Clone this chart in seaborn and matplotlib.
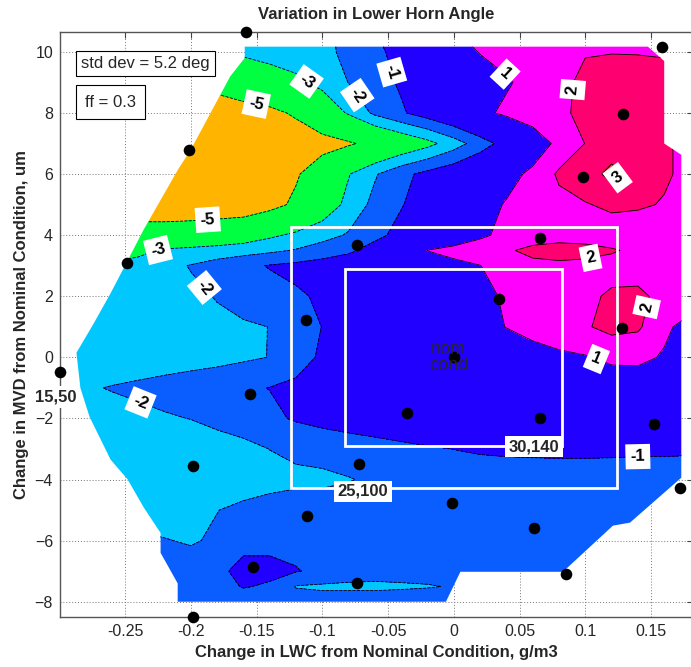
import numpy as np
import matplotlib
matplotlib.use("Agg")
import matplotlib.pyplot as plt
import seaborn as sns
from matplotlib.path import Path
from matplotlib.patches import Rectangle

# ---------------- data ----------------
lwc_grid = [-0.30, -0.28, -0.26, -0.24, -0.22, -0.20, -0.18, -0.16, -0.14, -0.12,
            -0.10, -0.08, -0.06, -0.04, -0.02, 0.00, 0.02, 0.04, 0.06, 0.08,
            0.10, 0.12, 0.14, 0.16, 0.18]
mvd_grid = [-8, -7.5, -7, -6, -5, -4, -3, -2, -1, 0, 1, 2, 3, 3.5, 4, 5, 6, 7, 8, 9, 10, 10.17]

# change in lower horn angle (deg), one row per MVD value (bottom to top)
angle_m8 = [-1.5]*5 + [-1.55, -1.5, -1.4, -1.45] + [-1.6]*5 + [-1.55] + [-1.5]*10
angle_m7h = [-1.5]*6 + [-1.3, -0.95, -1.1, -2.05, -2.15, -2.15, -2.15, -2.1, -2.05, -1.95, -1.6] + [-1.5]*8
angle_m7 = [-1.5]*6 + [-1.2, -0.75, -0.8, -0.95, -1.2, -1.6, -1.7, -1.7, -1.7, -1.6] + [-1.5]*9
angle_m6 = [-1.8, -1.8, -1.8, -1.8, -1.95, -2.1, -1.85, -1.25, -1.2, -1.25, -1.3, -1.45] + [-1.5]*13
angle_m5 = [-2.5]*5 + [-2.3, -2.02, -1.8, -1.65, -1.55] + [-1.5]*15
angle_m4 = [-2.6]*6 + [-2.55, -2.45, -2.3, -2.2, -2.2, -2.05, -1.85, -1.65, -1.55, -1.5] + [-1.45]*9
angle_m3 = [-2.6]*6 + [-2.5, -2.3, -1.99, -1.8, -1.65, -1.5, -1.35, -1.2, -1.08, -0.99, -0.9,
                      -0.85, -0.82, -0.8, -0.8, -0.82, -0.85, -0.85, -0.88]
angle_m2 = [-2.6, -2.5, -2.35, -2.25, -2.1, -1.98, -1.7, -1.45, -1.2, -0.9, -0.7, -0.55, -0.45,
            -0.38, -0.32, -0.28, -0.25, -0.22, -0.2, -0.2, -0.2, -0.22, -0.25, -0.25, -0.3]
angle_m1 = [-2.3, -2.1, -1.95, -1.8, -1.65, -1.5, -1.35, -1.15, -0.98, -0.8, -0.65, -0.5, -0.35,
            -0.2, -0.1, 0.0, 0.1, 0.2, 0.3, 0.35, 0.4, 0.4, 0.35, 0.3, 0.2]
angle_0 = [-2.6, -2.6, -2.6, -2.6, -2.5, -2.4, -2.3, -2.15, -1.98, -1.4, -0.85, -0.6, -0.4,
           -0.2, 0.0, 0.15, 0.3, 0.5, 0.65, 0.8, 0.93, 1.2, 1.25, 0.9, 0.5]
angle_1 = [-2.6, -2.6, -2.6, -2.5, -2.4, -2.3, -2.2, -2.1, -1.99, -1.5, -0.98, -0.71, -0.43,
           -0.14, 0.14, 0.43, 0.71, 1.02, 1.3, 1.6, 1.9, 2.3, 2.15, 1.2, 0.6]
angle_2 = [-2.7, -2.7, -2.7, -2.55, -2.4, -2.2, -1.95, -1.68, -1.41, -1.14, -0.86, -0.59, -0.31,
           -0.03, 0.24, 0.52, 0.79, 1.1, 1.4, 1.65, 1.85, 2.1, 2.15, 1.8, 1.6]
angle_3 = [-2.9, -2.9, -2.9, -2.6, -2.3, -1.95, -1.6, -1.26, -0.94, -0.75, -0.55, -0.35, -0.1,
           0.15, 0.45, 0.75, 0.98, 1.5, 1.8, 1.85, 1.8, 1.75, 1.7, 1.6, 1.5]
angle_3h = [-3.3, -3.3, -3.3, -3.3, -2.85, -2.7, -2.55, -2.4, -2.2, -1.93, -1.56, -1.19, -0.6,
            0.2, 1.02, 1.3, 1.6, 1.9, 2.2, 2.3, 2.25, 2.07, 1.85, 1.75, 1.7]
angle_4 = [-4.3, -4.3, -4.3, -4.3, -4.3, -4.2, -4.0, -3.7, -3.2, -2.79, -2.36, -1.9, -1.26,
           -0.7, -0.2, 0.3, 0.8, 1.3, 1.6, 1.7, 1.65, 1.6, 1.55, 1.5, 1.45]
angle_5 = [-5.9]*8 + [-5.45, -4.75, -3.75, -2.69, -1.71, -1.06, -0.51, 0.04, 0.59, 1.08, 1.41,
                      1.74, 1.95, 2.15, 2.1, 1.95, 1.7]
angle_6 = [-6.0]*8 + [-5.6, -5.15, -4.17, -3.06, -2.1, -1.28, -0.71, -0.26, 0.19, 0.64, 1.22,
                      2.15, 2.5, 3.3, 2.6, 2.1, 1.8]
angle_7 = [-6.0]*9 + [-5.8, -5.5, -5.15, -4.64, -3.98, -3.33, -2.47, -1.5, -0.57, 0.38, 1.26,
                      2.02, 2.4, 2.5, 2.1, 1.8]
angle_8 = [-5.8]*7 + [-5.6, -5.35, -4.81, -3.86, -2.875, -1.8, -1.13, -0.5, 0.125, 0.75, 1.19,
                      1.52, 1.84, 2.2, 2.5, 2.55, 2.45, 2.35]
angle_9 = [-5.0]*5 + [-4.8, -4.5, -4.0, -3.6, -3.25, -2.69, -1.98, -1.41, -0.87, -0.43, 0.01,
                      0.45, 0.89, 1.33, 1.76, 2.2, 2.4, 2.45, 2.4, 2.3]
angle_10 = [-3.2]*6 + [-2.9, -2.8, -2.6, -2.4, -2.2, -1.82, -1.24, -0.65, -0.06, 0.53, 1.05,
                       1.35, 1.6, 1.8, 1.95, 1.97, 1.95, 1.9, 1.9]
angle_top = [-2.8]*7 + [-2.7, -2.6, -2.4, -2.2, -1.81, -1.19, -0.58, 0.03, 0.64, 1.15, 1.4,
                        1.6, 1.75, 1.8, 1.85, 1.85, 1.8, 1.8]

angle_rows = [angle_m8, angle_m7h, angle_m7, angle_m6, angle_m5, angle_m4, angle_m3, angle_m2,
              angle_m1, angle_0, angle_1, angle_2, angle_3, angle_3h, angle_4, angle_5, angle_6,
              angle_7, angle_8, angle_9, angle_10, angle_top]

# outline of the interpolated region
region_lwc = [-0.159, 0.1476, 0.160, 0.160, 0.173, 0.173, 0.134, 0.121, 0.083, 0.005, -0.006,
              -0.21, -0.21, -0.223, -0.223, -0.236, -0.248, -0.261, -0.277, -0.284, -0.287,
              -0.274, -0.261, -0.249, -0.236, -0.223, -0.21, -0.2, -0.185, -0.17, -0.159]
region_mvd = [10.17, 10.17, 9.7, 7.0, 6.63, -3.94, -5.41, -5.51, -7.02, -7.02, -8.0,
              -8.0, -7.4, -6.4, -5.75, -4.9, -4.0, -3.35, -1.95, -1.0, 0.15,
              1.1, 2.1, 3.09, 4.17, 5.15, 6.13, 6.8, 8.0, 9.2, 9.8]

# test points
dot_lwc = [-0.158, 0.158, -0.2017, 0.1286, 0.0986, -0.2487, -0.0734, 0.0658, 0.0345, -0.1126,
           0.128, 0.0, -0.2995, -0.1547, -0.0358, 0.0655, 0.152, -0.1987, -0.0722, 0.1723,
           -0.0015, -0.1115, 0.0612, -0.153, 0.0856, -0.074, -0.198]
dot_mvd = [10.66, 10.17, 6.8, 7.97, 5.89, 3.09, 3.69, 3.9, 1.92, 1.22,
           0.97, 0.0, -0.48, -1.21, -1.81, -1.97, -2.19, -3.57, -3.5, -4.29,
           -4.78, -5.21, -5.59, -6.87, -7.09, -7.4, -8.49]

fill_levels = [-10, -5, -3, -2, -1, 1, 2, 3, 10]
band_colors = ['#FFB400', '#00FF40', '#00C8FF', '#0A5EFF', '#2200FF', '#FF00FF', '#FF0070', '#FF3030']
line_levels = [-5, -3, -2, -1, 1, 2, 3]

label_lwc = [-0.111, -0.149, -0.071, -0.041, 0.043, 0.092, 0.123, -0.187, -0.225, -0.189,
             0.104, 0.146, 0.106, -0.24, 0.14]
label_mvd = [9.08, 8.53, 8.65, 9.41, 9.47, 8.76, 5.97, 4.44, 3.52, 2.31,
             3.25, 1.65, -0.3, -1.65, -3.29]

box_half_lwc = [0.124, 0.0826]
box_half_mvd = [4.27, 2.89]
cond_labels = ["15,50", "25,100", "30,140"]
cond_lwc = [-0.303, -0.069, 0.061]
cond_mvd = [-1.29, -4.39, -2.92]

xtick_vals = [-0.25, -0.2, -0.15, -0.1, -0.05, 0, 0.05, 0.1, 0.15]
xtick_labels = ["-0.25", "-0.2", "-0.15", "-0.1", "-0.05", "0", "0.05", "0.1", "0.15"]
ytick_vals = [-8, -6, -4, -2, 0, 2, 4, 6, 8, 10]

# ---------------- plot ----------------
sns.set_style("white")
plt.rcParams['font.family'] = ['Liberation Sans', 'DejaVu Sans']

fig = plt.figure(figsize=(6.91, 6.67), dpi=100)
ax = fig.add_axes([60 / 691, 50 / 667, 633 / 691, 585.3 / 667])

X, Y = np.meshgrid(lwc_grid, mvd_grid)
Z = np.array(angle_rows, dtype=float)
clip = Path(np.column_stack([region_lwc, region_mvd]))

cf = ax.contourf(X, Y, Z, levels=fill_levels, colors=band_colors, zorder=2)
cf.set_clip_path(clip, ax.transData)
cl = ax.contour(X, Y, Z, levels=line_levels, colors='black', linewidths=0.6, zorder=3)
cl.set_clip_path(clip, ax.transData)

texts = cl.clabel(line_levels, manual=list(zip(label_lwc, label_mvd)), inline=False,
                  fmt=lambda v: f"{v:.0f}", fontsize=12, colors='black')
for t in texts:
    t.set_fontweight('bold')
    t.set_bbox(dict(boxstyle='square,pad=0.3', facecolor='white', edgecolor='none'))
    t.set_zorder(6)

for hx, hy in zip(box_half_lwc, box_half_mvd):
    ax.add_patch(Rectangle((-hx, -hy), 2 * hx, 2 * hy, fill=False, edgecolor='white',
                           linewidth=2, zorder=4))

sns.scatterplot(x=dot_lwc, y=dot_mvd, color='black', s=70, edgecolor='black', linewidth=0,
                ax=ax, zorder=7, legend=False, clip_on=False)

for lab, cx, cy in zip(cond_labels, cond_lwc, cond_mvd):
    ax.text(cx, cy, lab, ha='center', va='center', fontsize=12, fontweight='bold', zorder=8,
            bbox=dict(boxstyle='square,pad=0.2', facecolor='white', edgecolor='none'))

ax.text(-0.004, 0.0, "nom\ncond", ha='center', va='center', fontsize=13, linespacing=0.95, zorder=8)

ax.text(0.033, 0.9457, "std dev = 5.2 deg", transform=ax.transAxes, fontsize=12, ha='left',
        va='center', zorder=8,
        bbox=dict(boxstyle='square,pad=0.3', facecolor='white', edgecolor='black', linewidth=0.8))
ax.text(0.0395, 0.8797, "ff = 0.3", transform=ax.transAxes, fontsize=12, ha='left',
        va='center', zorder=8,
        bbox=dict(boxstyle='square,pad=0.55', facecolor='white', edgecolor='black', linewidth=0.8))

ax.set_xlim(-0.2995, 0.1819)
ax.set_ylim(-8.5, 10.66)
ax.set_xticks(xtick_vals)
ax.set_xticklabels(xtick_labels)
ax.set_yticks(ytick_vals)
ax.tick_params(direction='in', length=4, top=True, right=True, labelsize=11.5, pad=5,
               color='#444444')
ax.grid(True, linestyle=(0, (1, 2)), color='#777777', linewidth=0.7)
ax.set_axisbelow(True)
for sp in ax.spines.values():
    sp.set_color('#555555')
    sp.set_linewidth(1)

ax.set_title("Variation in Lower Horn Angle", fontsize=12, fontweight='bold', pad=9)
ax.set_xlabel("Change in LWC from Nominal Condition, g/m3", fontsize=12, fontweight='bold', labelpad=4)
ax.set_ylabel("Change in MVD from Nominal Condition, um", fontsize=12, fontweight='bold', labelpad=4)

fig.savefig('out.png', dpi=100)
